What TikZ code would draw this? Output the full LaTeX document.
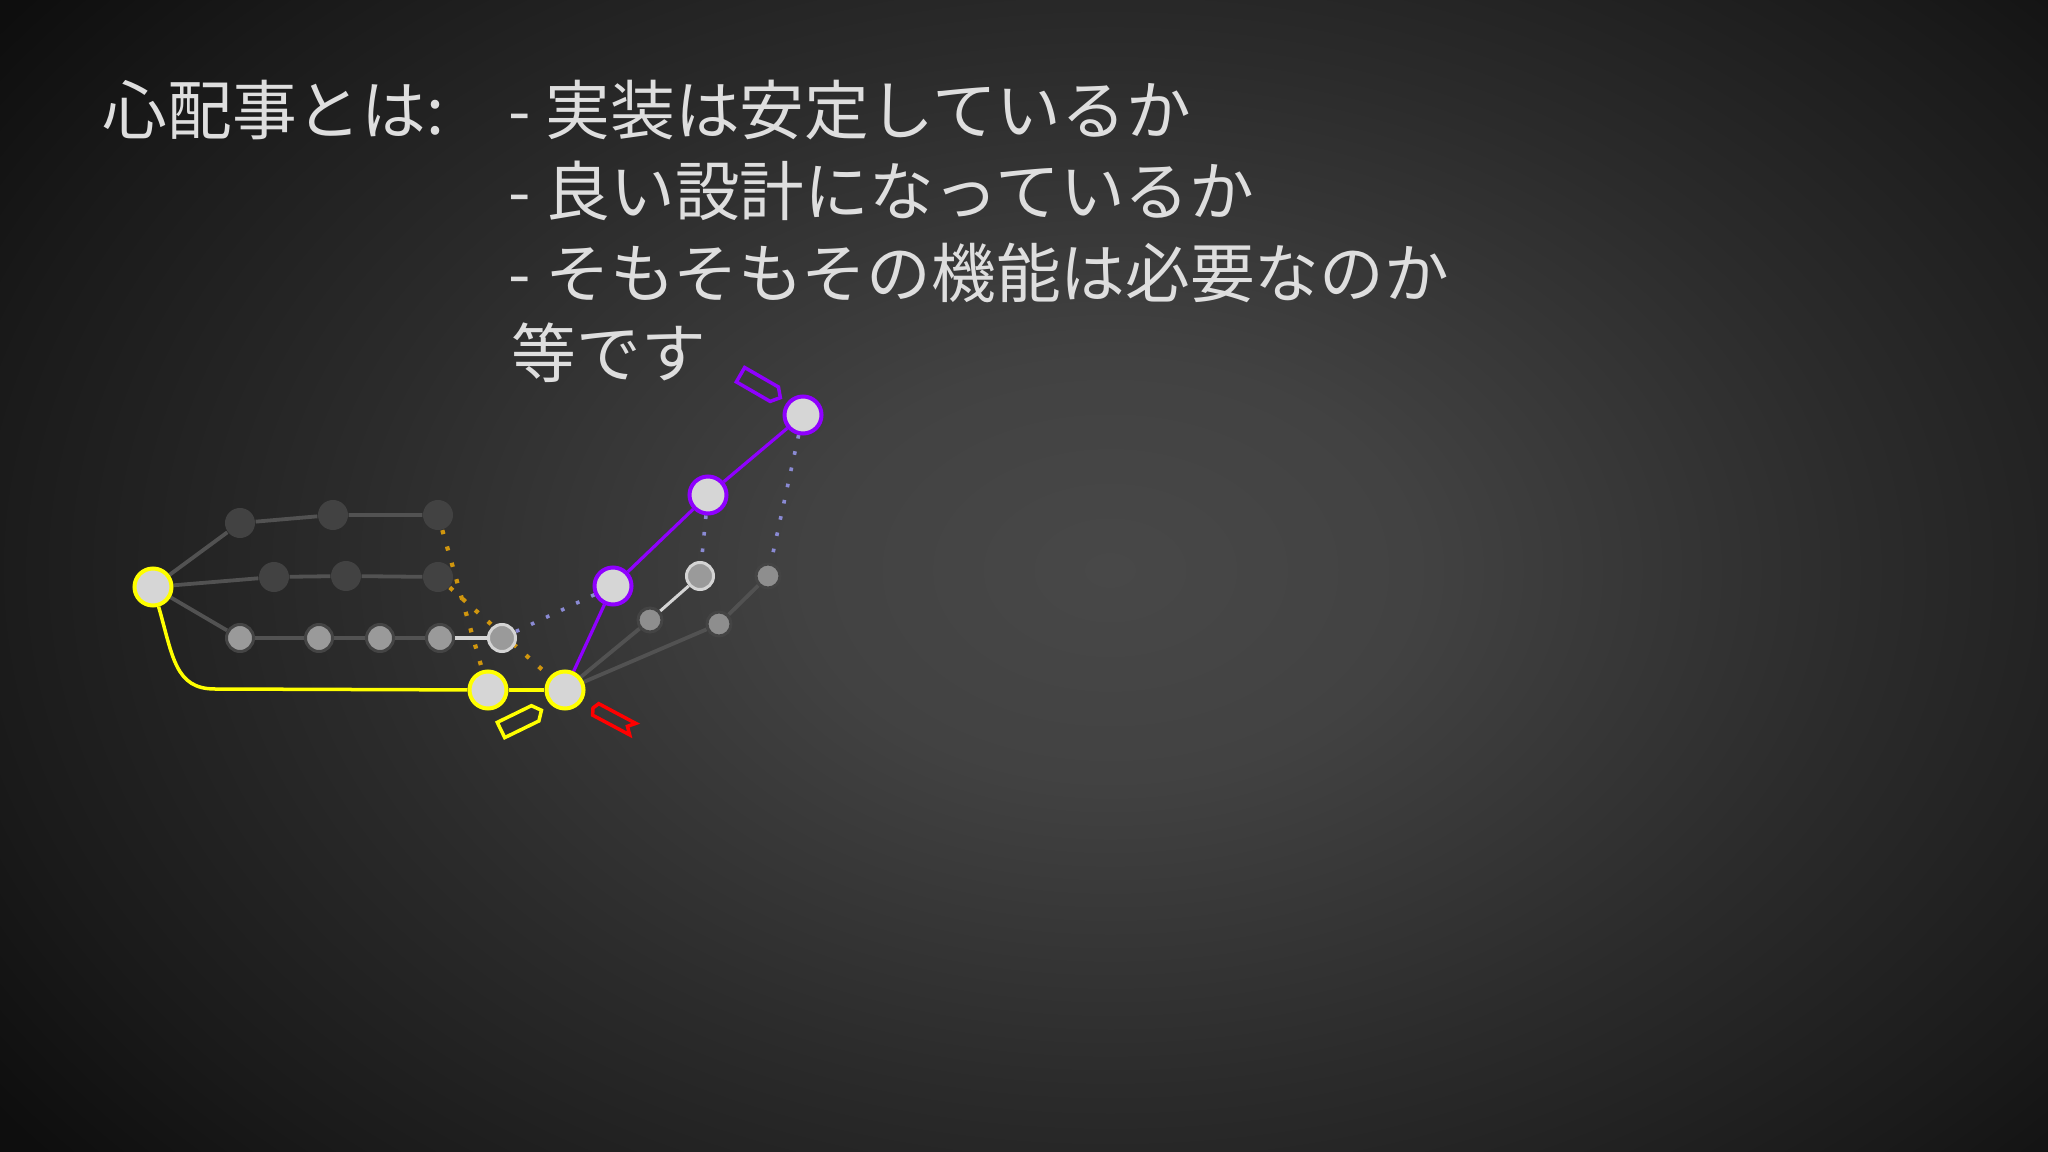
\documentclass[tikz,border=0pt]{standalone}
\usepackage{fontspec}
\newfontfamily\jpfont{Noto Sans CJK JP}
\usepackage{tikz}
\definecolor{bgzero}{HTML}{484848}
\definecolor{bgone}{HTML}{424242}
\definecolor{bgtwo}{HTML}{2B2B2B}
\definecolor{bgthree}{HTML}{1A1A1A}
\definecolor{bgfour}{HTML}{0E0E0E}
\definecolor{bgfive}{HTML}{0A0A0A}
\definecolor{txtgray}{HTML}{DEDEDE}
\definecolor{nodefill}{HTML}{D6D6D6}
\definecolor{darknode}{HTML}{424242}
\definecolor{midnode}{HTML}{9A9A9A}
\definecolor{ringdark}{HTML}{444444}
\definecolor{ringlight}{HTML}{D4D4D4}
\definecolor{edgedark}{HTML}{525252}
\definecolor{hiyellow}{HTML}{FFFF00}
\definecolor{hipurple}{HTML}{8F00FF}
\definecolor{hired}{HTML}{FF0000}
\definecolor{dotorange}{HTML}{D0960E}
\definecolor{dotblue}{HTML}{8A8AD4}
\pgfdeclareradialshading{bgglow}{\pgfpoint{0bp}{0bp}}{color(0bp)=(bgzero); color(4bp)=(bgone); color(10bp)=(bgtwo); color(15bp)=(bgthree); color(18bp)=(bgfour); color(25bp)=(bgfive); color(50bp)=(bgfive)}
\pgfdeclarelayer{bg}
\pgfdeclarelayer{edgelayer}
\pgfsetlayers{bg,edgelayer,main}
\tikzset{
    txt/.style={text=txtgray, inner sep=0pt, anchor=base west, font=\jpfont\fontsize{18.4}{22}\selectfont},
    bignode/.style={circle, draw=#1, line width=0.04cm, fill=nodefill, minimum size=0.37cm, inner sep=0pt},
    shadenode/.style={circle, fill=darknode, minimum size=0.30cm, inner sep=0pt},
    smallnode/.style={circle, draw=#1, line width=0.03cm, fill=midnode, minimum size=0.27cm, inner sep=0pt},
    tinynode/.style={circle, draw=#1, line width=0.03cm, fill=midnode!92!black, minimum size=0.24cm, inner sep=0pt},
    darkedge/.style={draw=edgedark, line width=0.038cm},
    lightedge/.style={draw=ringlight, line width=0.03cm},
    yedge/.style={draw=hiyellow, line width=0.035cm},
    pedge/.style={draw=hipurple, line width=0.032cm},
    odots/.style={draw=dotorange, line width=0.042cm, dash pattern=on 0.042cm off 0.128cm},
    bdots/.style={draw=dotblue, line width=0.036cm, dash pattern=on 0.036cm off 0.13cm},
    tagline/.style={draw=#1, line width=0.035cm, line join=miter}
}

\begin{document}
\begin{tikzpicture}[x=0.01cm, y=-0.01cm]
    \useasboundingbox (0,0) rectangle (2048,1152);
    \begin{pgfonlayer}{bg}
        \begin{scope}
            \clip (0,0) rectangle (2048,1152);
            \shade[shading=bgglow] (1110,570) ellipse (1900 and 1300);
        \end{scope}
    \end{pgfonlayer}

    % text
    \node[txt] (lead) at (102,135) {心配事とは:};
    \node[txt] (item1) at (508,135) {- 実装は安定しているか};
    \node[txt] (item2) at (508,216) {- 良い設計になっているか};
    \node[txt] (item3) at (508,298) {- そもそもその機能は必要なのか};
    \node[txt] (tail) at (511,378) {等です};

    % commits
    \node[bignode=hiyellow] (Y0) at (153,587) {};
    \node[shadenode] (T1) at (240,523) {};
    \node[shadenode] (T2) at (333,515) {};
    \node[shadenode] (T3) at (438,515) {};
    \node[shadenode] (M1) at (274,577) {};
    \node[shadenode] (M2) at (346,576) {};
    \node[shadenode] (M3) at (438,577) {};
    \node[smallnode=ringdark] (B1) at (240,638) {};
    \node[smallnode=ringdark] (B2) at (319,638) {};
    \node[smallnode=ringdark] (B3) at (380,638) {};
    \node[smallnode=ringdark] (B4) at (440,638) {};
    \node[smallnode=ringlight] (W) at (502,638) {};
    \node[bignode=hiyellow] (Y1) at (488,690) {};
    \node[bignode=hiyellow] (Y2) at (565,690) {};
    \node[bignode=hipurple] (P1) at (613,586) {};
    \node[bignode=hipurple] (P2) at (708,495) {};
    \node[bignode=hipurple] (P3) at (803,415) {};
    \node[smallnode=ringlight] (G1) at (700,576) {};
    \node[tinynode=ringdark] (G2) at (650,620) {};
    \node[tinynode=ringdark] (G3) at (768,576) {};
    \node[tinynode=ringdark] (G4) at (719,624) {};
    \coordinate (ybend) at (215,689);

    \begin{pgfonlayer}{edgelayer}
        \draw[darkedge] (Y0) -- (T1) -- (T2) -- (T3);
        \draw[darkedge] (Y0) -- (M1) -- (M2) -- (M3);
        \draw[darkedge] (Y0) -- (B1) -- (B2) -- (B3) -- (B4);
        \draw[lightedge] (B4) -- (W);
        \draw[yedge] (Y0) .. controls +(20,70) and +(-40,0) .. (ybend) -- (Y1);
        \draw[yedge] (Y1) -- (Y2);
        \draw[pedge] (Y2) -- (P1) -- (P2) -- (P3);
        \draw[darkedge] (Y2) -- (G2);
        \draw[lightedge] (G2) -- (G1);
        \draw[darkedge] (Y2) -- (G4) -- (G3);
        \draw[odots] (T3) -- (Y1);
        \draw[odots] (M3) -- (Y2);
        \draw[bdots] (P1) -- (W);
        \draw[bdots] (P2) -- (G1);
        \draw[bdots] (P3) -- (G3);
    \end{pgfonlayer}

    % labels
    \draw[tagline=hipurple, shift={(740.5,374.7)}, rotate=-30]
        (0,-8.3) -- (39,-8.3) -- (46,0) -- (39,8.3) -- (0,8.3) -- cycle;
    \draw[tagline=hiyellow, shift={(501,730)}, rotate=26]
        (0,-8.5) -- (38,-8.5) -- (45,0) -- (38,8.5) -- (0,8.5) -- cycle;
    \draw[tagline=hired, shift={(593,708)}, rotate=-28]
        (0,0) -- (3,-6.5) -- (45,-6.5) -- (39,0) -- (45,6.5) -- (3,6.5) -- cycle;
\end{tikzpicture}
\end{document}
